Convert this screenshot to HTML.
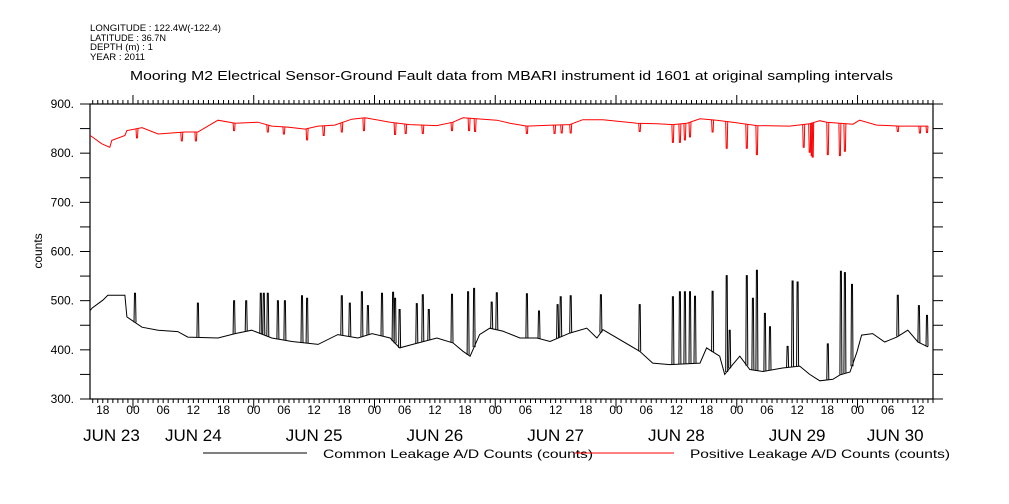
<!DOCTYPE html>
<html><head><meta charset="utf-8"><style>
html,body{margin:0;padding:0;background:#fff;}
svg{display:block;font-family:"Liberation Sans",sans-serif;}
</style></head><body>
<svg id="chart" width="1009" height="504" viewBox="0 0 1009 504">
<g font-size="9" fill="#000">
<text x="90" y="31" textLength="131" lengthAdjust="spacingAndGlyphs">LONGITUDE : 122.4W(-122.4)</text>
<text x="90" y="41" textLength="76" lengthAdjust="spacingAndGlyphs">LATITUDE : 36.7N</text>
<text x="90" y="50" textLength="63" lengthAdjust="spacingAndGlyphs">DEPTH (m) : 1</text>
<text x="90" y="60" textLength="55" lengthAdjust="spacingAndGlyphs">YEAR : 2011</text>
</g>
<text x="130" y="80" font-size="13" textLength="763" lengthAdjust="spacingAndGlyphs">Mooring M2 Electrical Sensor-Ground Fault data from MBARI instrument id 1601 at original sampling intervals</text>
<text transform="translate(42,251) rotate(-90)" text-anchor="middle" font-size="12">counts</text>
<g id="axes"></g>
<g id="series"></g>
<g font-size="12">
<line x1="203" y1="453" x2="307" y2="453" stroke="#000"/>
<text x="323" y="458" textLength="270" lengthAdjust="spacingAndGlyphs">Common Leakage A/D Counts (counts)</text>
<line x1="575" y1="453" x2="674" y2="453" stroke="#f00"/>
<text x="690" y="458" textLength="260" lengthAdjust="spacingAndGlyphs">Positive Leakage A/D Counts (counts)</text>
</g>
</svg>
<script>
// time in hours from JUN 24 00:00
const yTicks=[300,400,500,600,700,800,900];
const hourLabels=["00","06","12","18"];
const dayNames=["JUN 23","JUN 24","JUN 25","JUN 26","JUN 27","JUN 28","JUN 29","JUN 30"];
const commonT=[-8.5,-8.1,-6.0,-5.0,-1.6,-1.2,1.8,5.0,8.9,10.9,16.9,20.3,23.6,27.6,31.6,36.8,40.7,44.7,47.5,51.1,53.0,55.6,60.4,63.6,65.6,67.0,68.9,70.9,73.5,76.9,80.3,82.9,86.8,90.2,92.2,93.4,100.7,103.3,106.7,112.7,114.0,116.6,117.6,119.2,120.6,122.6,125.2,129.1,132.5,134.5,136.5,139.1,140.5,142.5,143.9,144.8,147.0,149.4,151.8,154.0,156.0,158.0];
const commonV=[480,485,501,511,511,467,446,440,437,426,424,433,440,424,417,411,431,424,433,424,404,411,424,414,397,387,431,444,438,424,424,417,434,444,424,441,397,373,370,373,404,387,350,370,387,360,356,363,367,350,337,340,349,355,396,430,433,416,426,440,416,406];
const commonSpikeT=[0.4,12.9,20.1,22.5,25.4,26.0,26.8,28.8,30.2,33.6,34.6,41.5,43.1,45.5,46.7,49.5,51.7,52.1,53.0,56.4,57.6,58.8,63.4,66.6,67.8,71.3,72.3,78.3,80.7,84.4,85.0,87.0,93.0,100.7,107.3,108.7,109.7,110.7,111.7,115.2,118.0,118.6,122.0,123.2,124.0,125.6,126.6,130.1,131.1,132.1,138.1,140.7,141.5,142.9,152.0,156.2,157.8];
const commonSpikeV=[515,495,500,500,515,515,515,500,500,510,505,510,495,518,490,515,517,505,482,494,512,482,513,518,525,497,516,514,479,492,508,510,512,492,508,518,518,518,509,519,551,440,551,505,562,474,447,407,540,538,412,560,557,533,511,490,470];
const positiveT=[-8.5,-8.1,-6.2,-4.6,-4.2,-1.6,-1.2,1.8,5.0,10.3,12.9,14.9,16.9,20.3,24.8,27.6,30.8,34.2,36.8,40.1,43.5,46.1,51.1,55.0,60.4,63.6,65.6,68.3,72.3,74.9,78.3,83.4,86.8,89.4,93.4,100.1,104.1,107.3,110.1,112.7,116.0,119.2,124.0,130.5,134.5,136.5,137.9,143.1,144.4,147.8,152.4,158.0];
const positiveV=[836,833,819,812,826,836,846,852,839,843,843,855,867,861,863,855,853,849,855,857,869,872,863,858,856,863,872,870,867,861,855,857,858,868,868,861,860,858,861,870,867,863,856,855,860,866,863,859,867,857,855,855];
const positiveDipT=[0.8,9.7,12.5,20.1,26.8,30.0,34.6,37.9,41.5,45.9,52.1,54.2,57.6,63.4,66.8,68.0,78.3,83.8,85.2,87.0,100.7,107.3,108.7,109.7,110.7,115.2,118.0,122.0,124.0,133.3,134.5,134.9,135.1,138.1,140.5,141.5,152.0,156.4,157.8];
const positiveDipV=[831,825,825,846,843,839,827,836,843,846,838,840,840,846,846,844,840,840,841,841,844,822,822,827,833,843,810,810,797,812,802,795,792,797,795,804,844,841,842];

const NS="http://www.w3.org/2000/svg";
const L=90,R=933,T=104,B=399;
const tMin=-8.54,tMax=159.0;
const vMin=300,vMax=900;
function xs(t){return L+(t-tMin)/(tMax-tMin)*(R-L);}
function ys(v){return B-(v-vMin)/(vMax-vMin)*(B-T);}
function mk(tag,attrs,parent){const e=document.createElementNS(NS,tag);for(const k in attrs)e.setAttribute(k,attrs[k]);parent.appendChild(e);return e;}
const axes=document.getElementById('axes');
const frame=mk('rect',{x:L,y:T,width:R-L,height:B-T,fill:'none',stroke:'#000','stroke-width':1.2},axes);


for(let v=vMin;v<=vMax;v+=50){
  const y=ys(v);
  const lt=mk('line',{x1:L-10,y1:y,x2:L,y2:y,stroke:'#000'},axes);
  
  
  const rt=mk('line',{x1:R,y1:y,x2:R+10,y2:y,stroke:'#000'},axes);
  
  
}
yTicks.forEach(v=>{
  const tx=mk('text',{x:74,y:ys(v)+4,'text-anchor':'end','font-size':12},axes);
  tx.textContent=v+'.';
  
  
});
for(let h=Math.ceil(tMin);h<=tMax;h++){
  const x=xs(h);
  const day=((h%24)+24)%24===0;
  const len=day?9:4;
  const a=mk('line',{x1:x,y1:B,x2:x,y2:B+len,stroke:'#000'},axes);
  
  
  const b=mk('line',{x1:x,y1:T-len,x2:x,y2:T,stroke:'#000'},axes);
  
  
  if(h%6===0){
    const tx=mk('text',{x:x,y:B+15,'text-anchor':'middle','font-size':12},axes);
    tx.textContent=hourLabels[(((h%24)+24)%24)/6];
    
    
  }
}
dayNames.forEach((d,i)=>{
  const s=Math.max(tMin,(i-1)*24),e=Math.min(tMax,i*24);
  const tx=mk('text',{x:(xs(s)+xs(e))/2,y:441,'text-anchor':'middle','font-size':17},axes);
  tx.textContent=d;
  
  
});
const series=document.getElementById('series');
function interp(T_,V_,t){for(let i=1;i<T_.length;i++){if(t<=T_[i]){const f=(t-T_[i-1])/(T_[i]-T_[i-1]);return V_[i-1]+f*(V_[i]-V_[i-1]);}}return V_[V_.length-1];}
function drawSeries(T_,V_,ST,SV,color,name){
  const pts=T_.map((t,i)=>xs(t).toFixed(1)+','+ys(V_[i]).toFixed(1)).join(' ');
  const pl=mk('polyline',{points:pts,fill:'none',stroke:color,'stroke-width':1},series);
  
  
  ST.forEach((t,i)=>{
    const x=xs(t);
    const base=interp(T_,V_,t);
    const sp=mk('polyline',{points:`${(x-1).toFixed(1)},${ys(base).toFixed(1)} ${(x-0.5).toFixed(1)},${ys(SV[i]).toFixed(1)} ${(x+0.5).toFixed(1)},${ys(SV[i]).toFixed(1)} ${(x+1).toFixed(1)},${ys(base).toFixed(1)}`,fill:'none',stroke:color,'stroke-width':1},series);
    
    
  });
}
drawSeries(positiveT,positiveV,positiveDipT,positiveDipV,'#f00','positive-leakage');
drawSeries(commonT,commonV,commonSpikeT,commonSpikeV,'#000','common-leakage');
</script>
</body></html>
